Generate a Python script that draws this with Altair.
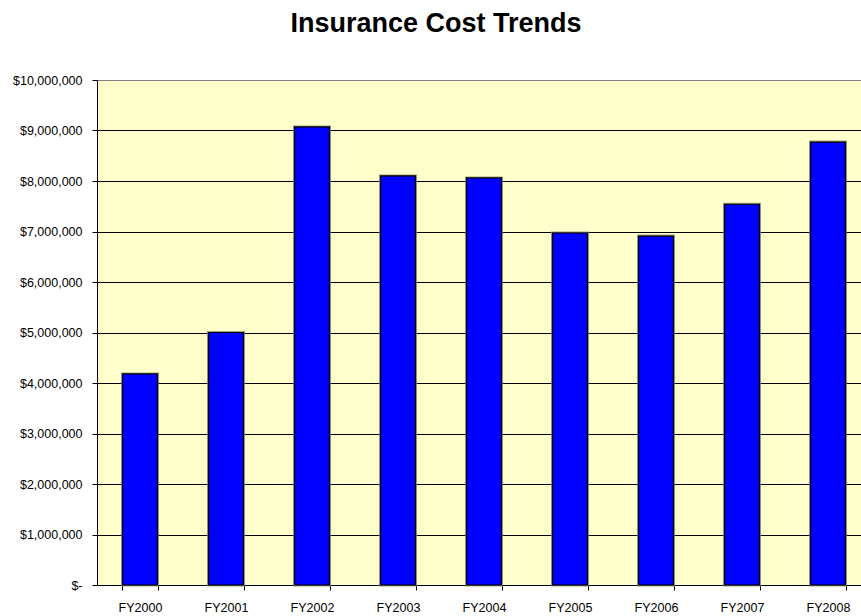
import altair as alt
import pandas as pd

years = ["FY2000", "FY2001", "FY2002", "FY2003", "FY2004", "FY2005", "FY2006", "FY2007", "FY2008"]
costs = [4180000, 5000000, 9070000, 8100000, 8060000, 6970000, 6910000, 7540000, 8770000]
y_ticks = [0, 1000000, 2000000, 3000000, 4000000, 5000000, 6000000, 7000000, 8000000, 9000000, 10000000]

df = pd.DataFrame({"year": years, "cost": costs})

FONT = "Liberation Sans"

x_enc = alt.X("year:N", sort=years,
              scale=alt.Scale(range=[0, 774], paddingInner=0.593, paddingOuter=0.2965),
              axis=alt.Axis(title=None, labelAngle=0, tickBand="extent", grid=False,
                            labelFont=FONT, labelFontSize=12.5, labelColor="black",
                            domainColor="black", tickColor="black", tickSize=5,
                            labelPadding=11))
y_enc = alt.Y("cost:Q", scale=alt.Scale(domain=[0, 10000000], nice=False),
              axis=alt.Axis(title=None, values=y_ticks,
                            labelExpr="datum.value == 0 ? '$-' : '$' + format(datum.value, ',')",
                            labelFont=FONT, labelFontSize=12.5, labelColor="black",
                            domainColor="black", tickColor="black", tickSize=5,
                            labelPadding=10,
                            gridColor=alt.condition("datum.value == 10000000", alt.value("#808080"), alt.value("black")),
                            gridWidth=1))

shadow = alt.Chart(df).mark_bar(
    color="#0000FF", stroke="#8a8a6a", strokeWidth=3, strokeOpacity=0.8
).encode(x=x_enc, y=y_enc)

bars = alt.Chart(df).mark_bar(
    color="#0000FF", stroke="black", strokeWidth=1.2
).encode(x=x_enc, y=y_enc)

chart = alt.layer(shadow, bars).properties(
    width=764, height=505,
    autosize=alt.AutoSizeParams(type="none"),
    padding={"left": 97, "top": 80, "right": 0, "bottom": 31},
    background="white",
    title=alt.TitleParams("Insurance Cost Trends", font=FONT, fontSize=27, fontWeight="bold",
                          color="black", anchor="middle", dx=-43, offset=36),
).configure_view(fill="#FFFFCC", stroke=None)

chart.save("out.html", embed_options={"renderer": "svg", "actions": False})
